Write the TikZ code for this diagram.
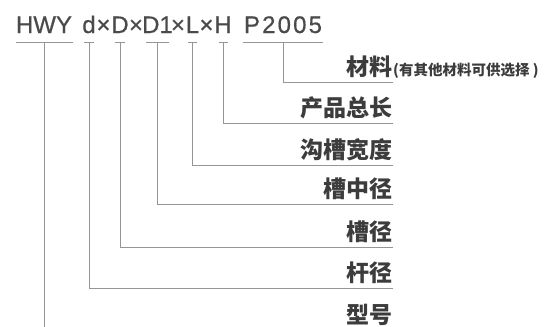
\documentclass[tikz,border=0pt]{standalone}
\usepackage{fontspec}
\setmainfont{Liberation Sans}
\newfontfamily\cjk{Noto Sans CJK SC}
\newfontfamily\codefont[FakeBold=0.6]{Liberation Sans}
\usetikzlibrary{positioning}
\definecolor{codegray}{HTML}{4A4A4A}
\definecolor{labelgray}{HTML}{3C3C3C}
\definecolor{leadgray}{HTML}{959595}

\begin{document}
\begin{tikzpicture}[x=1pt,y=-1pt,
  code/.style={inner sep=0pt,anchor=base,text=codegray,font=\codefont\fontsize{24}{24}\selectfont},
  part/.style={inner sep=0pt,anchor=base east,text=labelgray,font=\cjk\bfseries\fontsize{23}{23}\selectfont},
  note/.style={inner sep=0pt,anchor=base west,text=labelgray,font=\cjk\bfseries\fontsize{14.5}{14.5}\selectfont},
  uline/.style={draw=leadgray,line width=0.8pt},
  lead/.style={draw=leadgray,line width=0.8pt}]

\useasboundingbox (0,0) rectangle (550,327);

% code row
\node[code] (hwy) at (44,33) {HWY};
\node[code] (d) at (89,33) {d};
\node[code] (x1) at (103.5,33) {×};
\node[code] (D) at (120,33) {D};
\node[code] (x2) at (136,33) {×};
\node[code] (D1) at (157.5,33) {D1};
\node[code] (x3) at (178,33) {×};
\node[code] (L) at (192.5,33) {L};
\node[code] (x4) at (206.5,33) {×};
\node[code] (H) at (223,33) {H};
\node[code,font=\codefont\fontsize{24}{24}\selectfont\addfontfeature{LetterSpace=9}] (p) at (283,33) {P2005};

% underlines
\foreach \n/\w in {hwy/28.5,d/5,D/5,D1/11.5,L/4.5,H/4.5,p/40}
  \draw[uline] ([xshift=-\w pt,yshift=-9pt]\n.south) -- ([xshift=\w pt,yshift=-9pt]\n.south);

% labels
\node[part] (mat) at (393,75.5) {材料};
\node[note] (matnote) at (mat.base east) {(有其他材料可供选择 )};
\node[part] (len) at (393,116.5) {产品总长};
\node[part] (gw) at (393,158.5) {沟槽宽度};
\node[part] (gmid) at (393,197.5) {槽中径};
\node[part] (gdia) at (393,240.5) {槽径};
\node[part] (rod) at (393,281.5) {杆径};
\node[part] (model) at (393,323.5) {型号};
\coordinate (hwyend) at (44,327);

% leads
\draw[lead] ([yshift=-9pt]p.south) |- ([yshift=-6.5pt]mat.base east);
\draw[lead] ([yshift=-9pt]H.south) |- ([yshift=-6.5pt]len.base east);
\draw[lead] ([yshift=-9pt]L.south) |- ([yshift=-6.5pt]gw.base east);
\draw[lead] ([yshift=-9pt]D1.south) |- ([yshift=-6.5pt]gmid.base east);
\draw[lead] ([yshift=-9pt]D.south) |- ([yshift=-6.5pt]gdia.base east);
\draw[lead] ([yshift=-9pt]d.south) |- ([yshift=-6.5pt]rod.base east);
\draw[lead] ([yshift=-9pt]hwy.south) -- (hwyend);

\end{tikzpicture}
\end{document}
